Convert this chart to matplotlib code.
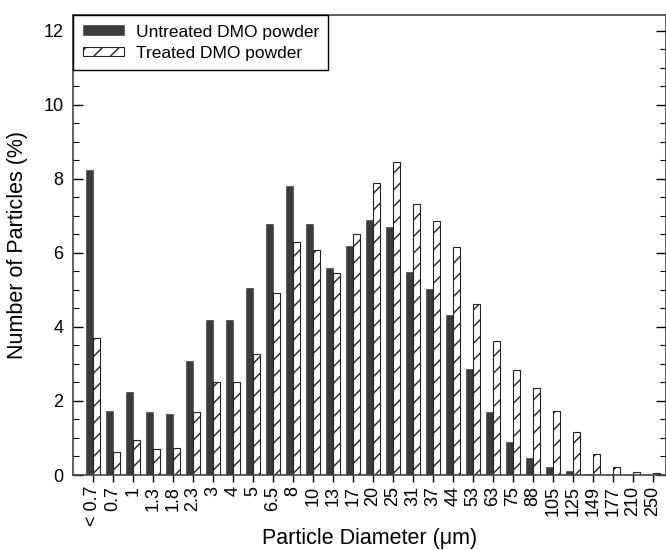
import numpy as np
import matplotlib
matplotlib.use("Agg")
import matplotlib.pyplot as plt
from matplotlib.ticker import MultipleLocator

plt.rcParams['font.family'] = ['Liberation Sans', 'DejaVu Sans']
plt.rcParams['hatch.linewidth'] = 1.0

# particle size classes (um)
sizes = ["< 0.7", "0.7", "1", "1.3", "1.8", "2.3", "3", "4", "5", "6.5", "8",
         "10", "13", "17", "20", "25", "31", "37", "44", "53", "63", "75",
         "88", "105", "125", "149", "177", "210", "250"]

# number of particles (%)
untreated = [8.25, 1.74, 2.24, 1.69, 1.66, 3.08, 4.18, 4.18, 5.05, 6.77, 7.8,
             6.77, 5.6, 6.2, 6.88, 6.7, 5.48, 5.03, 4.32, 2.86, 1.7, 0.9,
             0.46, 0.22, 0.11, 0.04, 0.0, 0.0, 0.0]
treated = [3.69, 0.61, 0.95, 0.69, 0.74, 1.69, 2.5, 2.5, 3.28, 4.92, 6.3,
           6.07, 5.45, 6.5, 7.88, 8.45, 7.32, 6.87, 6.16, 4.62, 3.62, 2.83,
           2.34, 1.72, 1.15, 0.58, 0.21, 0.07, 0.05]

fig = plt.figure(figsize=(6.66, 5.5), dpi=100)
ax = fig.add_axes([73 / 666, 75 / 550, 592.5 / 666, 460 / 550])

x = np.arange(len(sizes))
w = 0.36
ax.bar(x - w / 2, untreated, w, color='#3b3b3b', edgecolor='#555555',
       linewidth=0.6, label='Untreated DMO powder')
ax.bar(x + w / 2, treated, w, color='white', edgecolor='#222222',
       linewidth=0.8, hatch='//', label='Treated DMO powder')

ax.set_xlim(-1.0, 28.63)
ax.set_ylim(0, 12.43)

ax.set_xticks(x)
ax.set_xticklabels(sizes, rotation=90, fontsize=13, va='top')
ax.yaxis.set_major_locator(MultipleLocator(2))
ax.yaxis.set_minor_locator(MultipleLocator(0.5))
ax.tick_params(axis='y', which='major', direction='in', length=7, width=1,
               right=True, labelsize=13, pad=7)
ax.tick_params(axis='y', which='minor', direction='in', length=4, width=0.8,
               right=True)
ax.tick_params(axis='x', direction='out', length=5, width=1, pad=3)

for s in ax.spines.values():
    s.set_color('#444444')
    s.set_linewidth(1.2)

ax.set_xlabel('Particle Diameter (\u03bcm)', fontsize=15.5)
ax.xaxis.set_label_coords(0.5, -0.137)
ax.xaxis.label.set_va('center')
ax.set_ylabel('Number of Particles (%)', fontsize=15.5)
ax.yaxis.set_label_coords(-0.093, 0.5)
ax.yaxis.label.set_va('center')

leg = ax.legend(loc='upper left', borderaxespad=0, fontsize=12.5,
                fancybox=False, framealpha=1, edgecolor='black',
                handlelength=2.4, handleheight=0.5, labelspacing=0.35,
                borderpad=0.55, handletextpad=0.65)
leg.get_frame().set_linewidth(1.0)

fig.savefig('out.png', dpi=100)
